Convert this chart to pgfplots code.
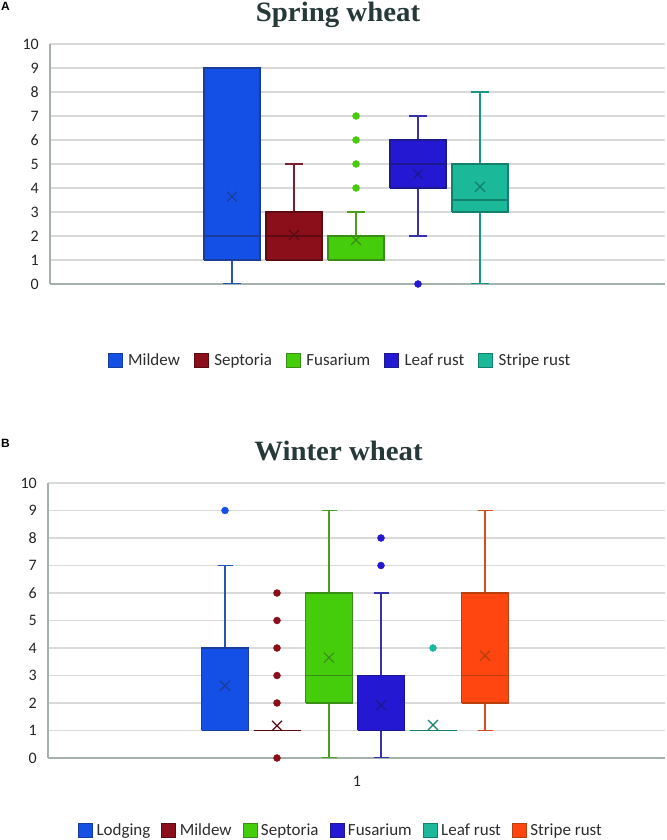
\documentclass[border=0pt]{standalone}
\usepackage{pgfplots}
\pgfplotsset{compat=1.18}
\usepackage{fontspec}
\setmainfont{Carlito}
\newfontfamily\titlefont[FakeStretch=1.03]{Liberation Serif}
\newfontfamily\labfont{Liberation Sans}

\definecolor{axgray}{RGB}{165,178,172}
\definecolor{gridgray}{RGB}{217,217,217}
\definecolor{tickc}{RGB}{38,38,38}
\definecolor{legc}{RGB}{45,45,45}
\definecolor{titlec}{RGB}{38,56,56}

\definecolor{cBlue}{HTML}{1450E6}
\definecolor{cBlueD}{HTML}{1A3C9A}
\definecolor{cBlueW}{HTML}{2358B0}
\definecolor{cRed}{HTML}{8A0F1A}
\definecolor{cRedD}{HTML}{5E0A12}
\definecolor{cRedW}{HTML}{7A2030}
\definecolor{cGreen}{HTML}{45CC0A}
\definecolor{cGreenD}{HTML}{3A8E18}
\definecolor{cGreenW}{HTML}{4C9E20}
\definecolor{cInd}{HTML}{2518D2}
\definecolor{cIndD}{HTML}{1E1890}
\definecolor{cIndW}{HTML}{3832A8}
\definecolor{cTeal}{HTML}{1BB99A}
\definecolor{cTealD}{HTML}{13806C}
\definecolor{cTealW}{HTML}{189682}
\definecolor{cOr}{HTML}{FF4510}
\definecolor{cOrD}{HTML}{B8400E}
\definecolor{cOrW}{HTML}{D0501E}

\pgfplotsset{
  mystyle/.style={
    scale only axis,
    ymin=0, ymax=10, ytick={0,1,...,10},
    axis x line*=bottom, axis y line*=left,
    axis line style={-, draw=axgray, line width=1.5bp},
    ymajorgrids, grid style={draw=gridgray, line width=1.2bp},
    major tick length=0pt,
    tick label style={font=\fontsize{16bp}{19bp}\selectfont, text=tickc},
    /pgf/number format/assume math mode=true,
    yticklabel style={inner xsep=0pt, xshift=-11bp},
    legend style={draw=none, fill=none, legend columns=-1,
      font=\fontsize{17bp}{20bp}\selectfont, text=legc},
    legend image code/.code={\draw[##1] (0bp,-7bp) rectangle (14bp,7bp);},
  },
  mn/.style={only marks, mark=x, mark size=7bp, forget plot,
    mark options={draw=#1, line width=1.2bp}},
  ol/.style={only marks, mark=*, mark size=3.5bp, forget plot,
    mark options={fill=#1, draw=#1}},
}

% \boxp{pos}{lower whisker}{Q1}{median}{Q3}{upper whisker}{colour}
\newcommand\boxp[7]{%
  \pgfmathsetmacro\xa{#1-\hw}\pgfmathsetmacro\xb{#1+\hw}%
  \pgfmathsetmacro\ca{#1-\hc}\pgfmathsetmacro\cb{#1+\hc}%
  \addplot[draw=#7W, line width=1.3bp, forget plot] coordinates {(#1,#2) (#1,#3)};
  \addplot[draw=#7W, line width=1.3bp, forget plot] coordinates {(\ca,#2) (\cb,#2)};
  \addplot[draw=#7W, line width=1.3bp, forget plot] coordinates {(#1,#5) (#1,#6)};
  \addplot[draw=#7W, line width=1.3bp, forget plot] coordinates {(\ca,#6) (\cb,#6)};
  \addplot[fill=#7, draw=#7D, line width=1.3bp, line join=miter, forget plot]
     coordinates {(\xa,#3) (\xb,#3) (\xb,#5) (\xa,#5) (\xa,#3)};
  \addplot[draw=#7D, line width=1.3bp, forget plot] coordinates {(\xa,#4) (\xb,#4)};
}

\begin{document}
\begin{tikzpicture}
\path[use as bounding box] (0,0) rectangle (667bp,840bp);

% ---------------- A: Spring wheat ----------------
\node[anchor=north west, inner sep=0pt, font=\labfont\bfseries\fontsize{12bp}{14bp}\selectfont] at (1bp,838bp) {A};
\node[anchor=base, font=\titlefont\bfseries\fontsize{28bp}{31bp}\selectfont, text=titlec] at (338bp,818bp) {Spring wheat};

\def\hw{28}\def\hc{9}
\begin{axis}[mystyle,
  at={(50bp,556bp)}, anchor=south west,
  width=615bp, height=240bp,
  xmin=50, xmax=665, xtick=\empty,
  legend style={at={(0.4715,-0.3167)}, anchor=center,
    /tikz/every odd column/.append style={column sep=4bp},
    /tikz/every even column/.append style={column sep=12bp}},
]
\addlegendimage{fill=cBlue, draw=cBlueD}\addlegendentry{Mildew}
\addlegendimage{fill=cRed, draw=cRedD}\addlegendentry{Septoria}
\addlegendimage{fill=cGreen, draw=cGreenD}\addlegendentry{Fusarium}
\addlegendimage{fill=cInd, draw=cIndD}\addlegendentry{Leaf rust}
\addlegendimage{fill=cTeal, draw=cTealD}\addlegendentry{Stripe rust}

\boxp{232}{0}{1}{2}{9}{9}{cBlue}
\boxp{294}{1}{1}{2}{3}{5}{cRed}
\boxp{356}{1}{1}{2}{2}{3}{cGreen}
\boxp{418}{2}{4}{5}{6}{7}{cInd}
\boxp{480}{0}{3}{3.5}{5}{8}{cTeal}

\addplot[ol=cGreen] coordinates {(356,4) (356,5) (356,6) (356,7)};
\addplot[ol=cInd] coordinates {(418,0)};

\addplot[mn=cBlueD] coordinates {(232,3.64)};
\addplot[mn=cRedD] coordinates {(294,2.04)};
\addplot[mn=cGreenD] coordinates {(356,1.83)};
\addplot[mn=cIndD] coordinates {(418,4.58)};
\addplot[mn=cTealD] coordinates {(480,4.05)};
\end{axis}

% ---------------- B: Winter wheat ----------------
\node[anchor=north west, inner sep=0pt, font=\labfont\bfseries\fontsize{12bp}{14bp}\selectfont] at (1bp,401bp) {B};
\node[anchor=base, font=\titlefont\bfseries\fontsize{28bp}{31bp}\selectfont, text=titlec] at (338.5bp,379bp) {Winter wheat};

\def\hw{23.5}\def\hc{7.5}
\begin{axis}[mystyle,
  at={(48bp,82bp)}, anchor=south west,
  width=617bp, height=275bp,
  xmin=48, xmax=665, xtick={357}, xticklabels={1},
  xticklabel style={yshift=-15bp},
  legend style={at={(0.4749,-0.2618)}, anchor=center,
    /tikz/every odd column/.append style={column sep=2bp},
    /tikz/every even column/.append style={column sep=9bp}},
]
\addlegendimage{fill=cBlue, draw=cBlueD}\addlegendentry{Lodging}
\addlegendimage{fill=cRed, draw=cRedD}\addlegendentry{Mildew}
\addlegendimage{fill=cGreen, draw=cGreenD}\addlegendentry{Septoria}
\addlegendimage{fill=cInd, draw=cIndD}\addlegendentry{Fusarium}
\addlegendimage{fill=cTeal, draw=cTealD}\addlegendentry{Leaf rust}
\addlegendimage{fill=cOr, draw=cOrD}\addlegendentry{Stripe rust}

\boxp{225}{1}{1}{1}{4}{7}{cBlue}
\boxp{277}{1}{1}{1}{1}{1}{cRed}
\boxp{329}{0}{2}{3}{6}{9}{cGreen}
\boxp{381}{0}{1}{1}{3}{6}{cInd}
\boxp{433}{1}{1}{1}{1}{1}{cTeal}
\boxp{485}{1}{2}{3}{6}{9}{cOr}

\addplot[ol=cBlue] coordinates {(225,9)};
\addplot[ol=cRed] coordinates {(277,0) (277,2) (277,3) (277,4) (277,5) (277,6)};
\addplot[ol=cInd] coordinates {(381,7) (381,8)};
\addplot[ol=cTeal] coordinates {(433,4)};

\addplot[mn=cBlueD] coordinates {(225,2.63)};
\addplot[mn=cRedD] coordinates {(277,1.17)};
\addplot[mn=cGreenD] coordinates {(329,3.65)};
\addplot[mn=cIndD] coordinates {(381,1.92)};
\addplot[mn=cTealD] coordinates {(433,1.2)};
\addplot[mn=cOrD] coordinates {(485,3.72)};
\end{axis}
\end{tikzpicture}
\end{document}
